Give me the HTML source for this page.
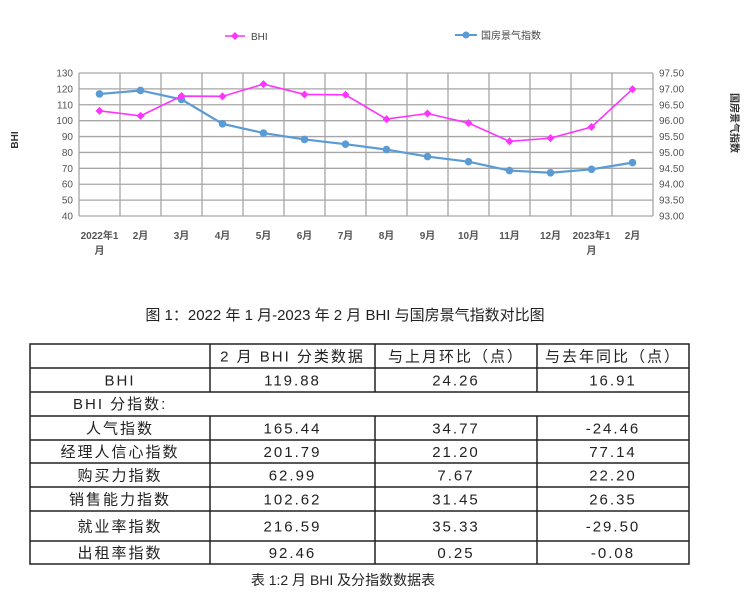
<!DOCTYPE html>
<html><head><meta charset="utf-8">
<style>
body{margin:0;background:#fff;width:750px;height:609px;overflow:hidden;position:relative;font-family:"Liberation Sans","Noto Sans CJK SC",sans-serif;}
svg text{font-family:"Liberation Sans","Noto Sans CJK SC",sans-serif;}
.t{font-family:"Liberation Sans","Noto Sans CJK SC",sans-serif;}
</style></head><body>
<svg id="chart" width="750" height="260" style="position:absolute;left:0;top:0"></svg>
<div style="position:absolute;left:0;width:690px;top:304px;text-align:center;font-size:15px;color:#222;font-family:'Liberation Sans','Noto Sans CJK SC',sans-serif;">图 1：2022 年 1 月-2023 年 2 月 BHI 与国房景气指数对比图</div>
<svg id="tbl" width="750" height="609" style="position:absolute;left:0;top:0"></svg>
<div style="position:absolute;left:0;width:686px;top:570px;text-align:center;font-size:14px;color:#222;font-family:'Liberation Sans','Noto Sans CJK SC',sans-serif;">表 1:2 月 BHI 及分指数数据表</div>
<script>
const categories=["2022年1|月","2月","3月","4月","5月","6月","7月","8月","9月","10月","11月","12月","2023年1|月","2月"];
const bhiValues=[106.2,103.0,115.5,115.3,123.0,116.5,116.3,101.0,104.5,98.5,87.0,89.0,96.0,119.88];
const housingValues=[96.84,96.95,96.67,95.90,95.61,95.41,95.26,95.09,94.87,94.71,94.43,94.36,94.47,94.68];
const leftTicks=[40,50,60,70,80,90,100,110,120,130];
const rightTicks=["93.00","93.50","94.00","94.50","95.00","95.50","96.00","96.50","97.00","97.50"];

const NS="http://www.w3.org/2000/svg";
const svg=document.getElementById('chart');
function mk(tag,attrs,parent){const e=document.createElementNS(NS,tag);for(const k in attrs)e.setAttribute(k,attrs[k]);(parent||svg).appendChild(e);return e;}
const X0=79,X1=653,Y0=216,Y1=73;
const bw=(X1-X0)/categories.length;
const xc=i=>X0+bw*(i+0.5);
const yL=v=>Y0-(v-40)/90*(Y0-Y1);
const yR=v=>Y0-(v-93)/4.5*(Y0-Y1);
// grid
for(let i=0;i<leftTicks.length;i++){
  const y=yL(leftTicks[i]);
  const g=mk('line',{x1:X0,x2:X1,y1:y,y2:y,stroke:'#a6a6a6','stroke-width':1.3});
  
  
  const t=mk('text',{x:X0-6,y:y+3.5,'text-anchor':'end','font-size':10,fill:'#555'});
  t.textContent=leftTicks[i];
  
  
}
for(let i=0;i<rightTicks.length;i++){
  const y=yR(parseFloat(rightTicks[i]));
  const t=mk('text',{x:X1+6,y:y+3.5,'font-size':10,fill:'#555'});
  t.textContent=rightTicks[i];
  
  
}
for(let i=0;i<=categories.length;i++){
  const x=X0+bw*i;
  const g=mk('line',{x1:x,x2:x,y1:Y1,y2:Y0,stroke:'#a6a6a6','stroke-width':1.3});
  
  
}
categories.forEach((c,i)=>{
  const parts=c.split('|');
  parts.forEach((p,j)=>{
    const t=mk('text',{x:xc(i),y:239+j*15,'text-anchor':'middle','font-size':10,fill:'#555','font-weight':'bold'});
    t.textContent=p;
    
    
  });
});
// series
function series(vals,yf,color,name,diamond){
  const pts=vals.map((v,i)=>xc(i)+','+yf(v)).join(' ');
  const l=mk('polyline',{points:pts,fill:'none',stroke:color,'stroke-width':diamond?1.6:2.2});
  
  
  vals.forEach((v,i)=>{
    const x=xc(i),y=yf(v);
    let m;
    if(diamond){m=mk('polygon',{points:`${x},${y-4} ${x+4},${y} ${x},${y+4} ${x-4},${y}`,fill:color});}
    else{m=mk('circle',{cx:x,cy:y,r:3.8,fill:color});}
    
    
  });
}
series(housingValues,yR,'#5b9bd5','housing-index',false);
series(bhiValues,yL,'#ff33ff','bhi',true);
// legend
let e;
e=mk('line',{x1:225,x2:245,y1:36,y2:36,stroke:'#ff33ff','stroke-width':1.6});

e=mk('polygon',{points:'235,32 239,36 235,40 231,36',fill:'#ff33ff'});

e=mk('text',{x:251,y:40,'font-size':10,fill:'#444'});e.textContent='BHI';

e=mk('line',{x1:455,x2:477,y1:35,y2:35,stroke:'#5b9bd5','stroke-width':2});

e=mk('circle',{cx:466,cy:35,r:3.5,fill:'#5b9bd5'});

e=mk('text',{x:481,y:39,'font-size':10,fill:'#444'});e.textContent='国房景气指数';

e=mk('text',{x:18,y:140,'font-size':10,'font-weight':'bold',fill:'#333','text-anchor':'middle',transform:'rotate(-90 18 140)'});e.textContent='BHI';

e=mk('text',{x:731,y:123,'font-size':10,'font-weight':'bold',fill:'#333','text-anchor':'middle',transform:'rotate(90 731 123)'});e.textContent='国房景气指数';


// table
const tbl=document.getElementById('tbl');
const rowsY=[344,368,392,416,440,463,487,511,541,564];
const colsX=[30,210,375,537,689];
const rows=[
 ["","2 月 BHI 分类数据","与上月环比（点）","与去年同比（点）"],
 ["BHI","119.88","24.26","16.91"],
 ["BHI 分指数:"],
 ["人气指数","165.44","34.77","-24.46"],
 ["经理人信心指数","201.79","21.20","77.14"],
 ["购买力指数","62.99","7.67","22.20"],
 ["销售能力指数","102.62","31.45","26.35"],
 ["就业率指数","216.59","35.33","-29.50"],
 ["出租率指数","92.46","0.25","-0.08"]
];
e=mk('rect',{x:30,y:344,width:659,height:220,fill:'none',stroke:'#222','stroke-width':1.5},tbl);

rowsY.slice(1,-1).forEach(y=>{e=mk('line',{x1:30,x2:689,y1:y,y2:y,stroke:'#222','stroke-width':1.5},tbl);
});
rows.forEach((r,ri)=>{
  const yt=rowsY[ri],yb=rowsY[ri+1];
  if(r.length===1){
    e=mk('text',{x:73,y:(yt+yb)/2+5,'font-size':15,fill:'#222','letter-spacing':2},tbl);e.textContent=r[0];
    
    return;
  }
  for(let c=1;c<4;c++){e=mk('line',{x1:colsX[c],x2:colsX[c],y1:yt,y2:yb,stroke:'#222','stroke-width':1.5},tbl);
    }
  r.forEach((txt,c)=>{
    e=mk('text',{x:(colsX[c]+colsX[c+1])/2,y:(yt+yb)/2+5.5,'font-size':15,fill:'#222','text-anchor':'middle','letter-spacing':2},tbl);
    e.textContent=txt;
    
  });
});
</script>
</body></html>
